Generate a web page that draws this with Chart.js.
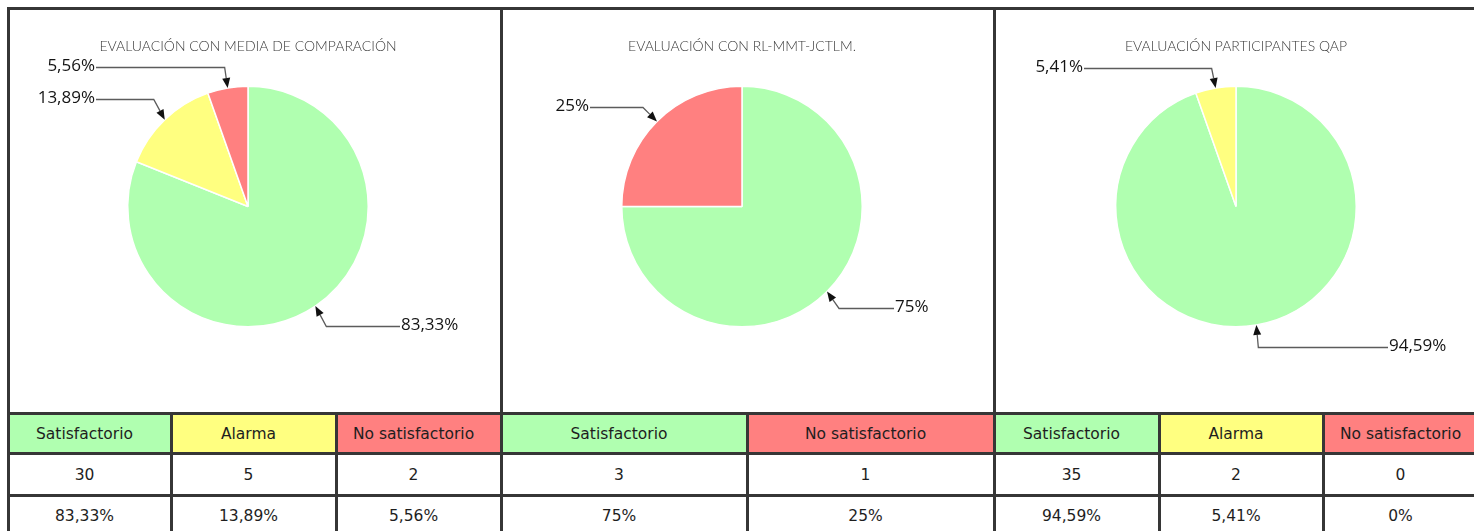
<!DOCTYPE html>
<html><head><meta charset="utf-8">
<script src="https://cdn.jsdelivr.net/npm/chart.js@4.4.1/dist/chart.umd.min.js"></script>
<style>
html,body{margin:0;padding:0;background:#fff;overflow:hidden;width:1474px;height:531px}
#wrap{position:relative;width:1474px;height:531px;overflow:hidden}
.frame{position:absolute;background:#363636;z-index:5}
.chartbox{position:absolute;top:10px;width:478px;height:402px}
table{position:absolute;top:412px;border-collapse:separate;border-spacing:0;table-layout:fixed;
  font-family:"DejaVu Sans",sans-serif;font-size:15.5px;color:#1e1e1e;border-top:3px solid #363636}
td{border-right:3px solid #363636;border-bottom:3px solid #363636;text-align:center;padding:0 11px 0 0;box-sizing:content-box;white-space:nowrap;overflow:hidden}
tr.h td{height:37px}
tr.c td{height:39px}
tr.p td{height:37px}
</style>
</head><body>
<div id="wrap">
  <div class="chartbox" style="left:9px"><canvas id="c1" width="478" height="402"></canvas></div>
  <div class="chartbox" style="left:503px"><canvas id="c2" width="478" height="402"></canvas></div>
  <div class="chartbox" style="left:997px"><canvas id="c3" width="478" height="402"></canvas></div>
  <div class="frame" style="left:7px;top:7px;width:1467px;height:3px"></div>
  <div class="frame" style="left:7px;top:7px;width:3px;height:408px"></div>
  <div class="frame" style="left:500px;top:7px;width:3px;height:408px"></div>
  <div class="frame" style="left:993px;top:7px;width:3px;height:408px"></div>
  <table id="t1" style="left:7px;border-left:3px solid #363636"></table>
  <table id="t2" style="left:503px"></table>
  <table id="t3" style="left:996px"></table>
</div>
<script>
// ---- data ----
const titles = ['EVALUACIÓN CON MEDIA DE COMPARACIÓN', 'EVALUACIÓN CON RL-MMT-JCTLM.', 'EVALUACIÓN PARTICIPANTES QAP'];
const categories1 = ['Satisfactorio', 'Alarma', 'No satisfactorio'];
const counts1 = [30, 5, 2];
const percents1 = [83.33, 13.89, 5.56];
const categories2 = ['Satisfactorio', 'No satisfactorio'];
const counts2 = [3, 1];
const percents2 = [75, 25];
const categories3 = ['Satisfactorio', 'Alarma', 'No satisfactorio'];
const counts3 = [35, 2, 0];
const percents3 = [94.59, 5.41, 0];

// ---- styles / layout (not data) ----
const colorOf = {'Satisfactorio': '#B0FFB0', 'Alarma': '#FFFF80', 'No satisfactorio': '#FF8080'};
const calloutLayout1 = [{dy: 120, ex: 11}, {dy: -107, ex: -11}, {dy: -139, ex: -3}];
const calloutLayout2 = [{dy: 102, ex: 12}, {dy: -99, ex: -14}];
const calloutLayout3 = [{dy: 141, ex: 2}, {dy: -138, ex: -4}, null];
const colWidths1 = [160, 162, 162];
const colWidths2 = [243, 244];
const colWidths3 = [162, 161, 162];

function fmtPct(v) {
  let s = Number(v).toFixed(2);
  s = s.replace(/\.?0+$/, '');
  if (s === '') s = '0';
  return s.replace('.', ',') + '%';
}

const titlePlugin = {
  id: 'ptitle',
  afterDraw(chart, args, opts) {
    const ctx = chart.ctx;
    const meta = chart.getDatasetMeta(0);
    const cx = meta.data[0].x;
    ctx.save();
    ctx.font = '300 14px Lato, "Open Sans", sans-serif';
    ctx.fillStyle = '#3a3a3a';
    ctx.textAlign = 'center';
    ctx.textBaseline = 'middle';
    ctx.fillText(opts.text, cx, 36);
    ctx.restore();
  }
};

const calloutPlugin = {
  id: 'callouts',
  afterDatasetsDraw(chart, args, opts) {
    const ctx = chart.ctx;
    const meta = chart.getDatasetMeta(0);
    const data = chart.data.datasets[0].data;
    opts.layout.forEach((lay, i) => {
      if (!lay || !data[i]) return;
      const p = meta.data[i].getProps(['x', 'y', 'startAngle', 'endAngle', 'outerRadius'], true);
      const mid = (p.startAngle + p.endAngle) / 2;
      const tipX = p.x + Math.cos(mid) * p.outerRadius;
      const tipY = p.y + Math.sin(mid) * p.outerRadius;
      const right = tipX > p.x;
      const lineY = p.y + lay.dy;
      const endX = p.x + (right ? 152 : -152);
      const elbowX = tipX + lay.ex;
      const dx = tipX - elbowX, dy = tipY - lineY;
      const len = Math.hypot(dx, dy) || 1;
      const ux = dx / len, uy = dy / len;
      const aL = 10, aW = 4;
      const bx = tipX - ux * aL, by = tipY - uy * aL;
      ctx.save();
      ctx.strokeStyle = '#5c5c5c';
      ctx.lineWidth = 1.3;
      ctx.beginPath();
      ctx.moveTo(endX, lineY);
      ctx.lineTo(elbowX, lineY);
      ctx.lineTo(bx, by);
      ctx.stroke();
      ctx.fillStyle = '#111';
      ctx.beginPath();
      ctx.moveTo(tipX, tipY);
      ctx.lineTo(bx - uy * aW, by + ux * aW);
      ctx.lineTo(bx + uy * aW, by - ux * aW);
      ctx.closePath();
      ctx.fill();
      ctx.font = '17px "Open Sans", sans-serif';
      ctx.fillStyle = '#141414';
      ctx.textBaseline = 'middle';
      ctx.textAlign = right ? 'left' : 'right';
      ctx.fillText(fmtPct(data[i]), endX + (right ? 1 : -1), lineY - 1);
      ctx.restore();
    });
  }
};

function makeChart(id, title, cats, percents, layout) {
  new Chart(document.getElementById(id), {
    type: 'pie',
    data: {
      labels: cats,
      datasets: [{
        data: percents,
        backgroundColor: cats.map(c => colorOf[c]),
        borderColor: '#ffffff',
        borderWidth: 1.5
      }]
    },
    options: {
      responsive: false,
      animation: false,
      devicePixelRatio: 1,
      layout: {padding: {left: 118, right: 118, top: 75.5, bottom: 84.5}},
      plugins: {
        legend: {display: false},
        tooltip: {enabled: false},
        ptitle: {text: title},
        callouts: {layout: layout}
      }
    },
    plugins: [titlePlugin, calloutPlugin]
  });
}

function makeTable(id, cats, counts, percents, widths) {
  const t = document.getElementById(id);
  const totalW = widths.reduce((a, b) => a + b + 3, 0);
  t.style.width = totalW + 'px';
  const rows = [
    ['h', cats, cats.map(c => colorOf[c])],
    ['c', counts.map(String), null],
    ['p', percents.map(fmtPct), null]
  ];
  rows.forEach(([cls, vals, bgs]) => {
    const tr = document.createElement('tr');
    tr.className = cls;
    vals.forEach((v, i) => {
      const td = document.createElement('td');
      td.textContent = v;
      td.style.width = (widths[i] - 11) + 'px';
      if (bgs) td.style.background = bgs[i];
      tr.appendChild(td);
    });
    t.appendChild(tr);
  });
}

makeChart('c1', titles[0], categories1, percents1, calloutLayout1);
makeChart('c2', titles[1], categories2, percents2, calloutLayout2);
makeChart('c3', titles[2], categories3, percents3, calloutLayout3);
makeTable('t1', categories1, counts1, percents1, colWidths1);
makeTable('t2', categories2, counts2, percents2, colWidths2);
makeTable('t3', categories3, counts3, percents3, colWidths3);
</script>
</body></html>
